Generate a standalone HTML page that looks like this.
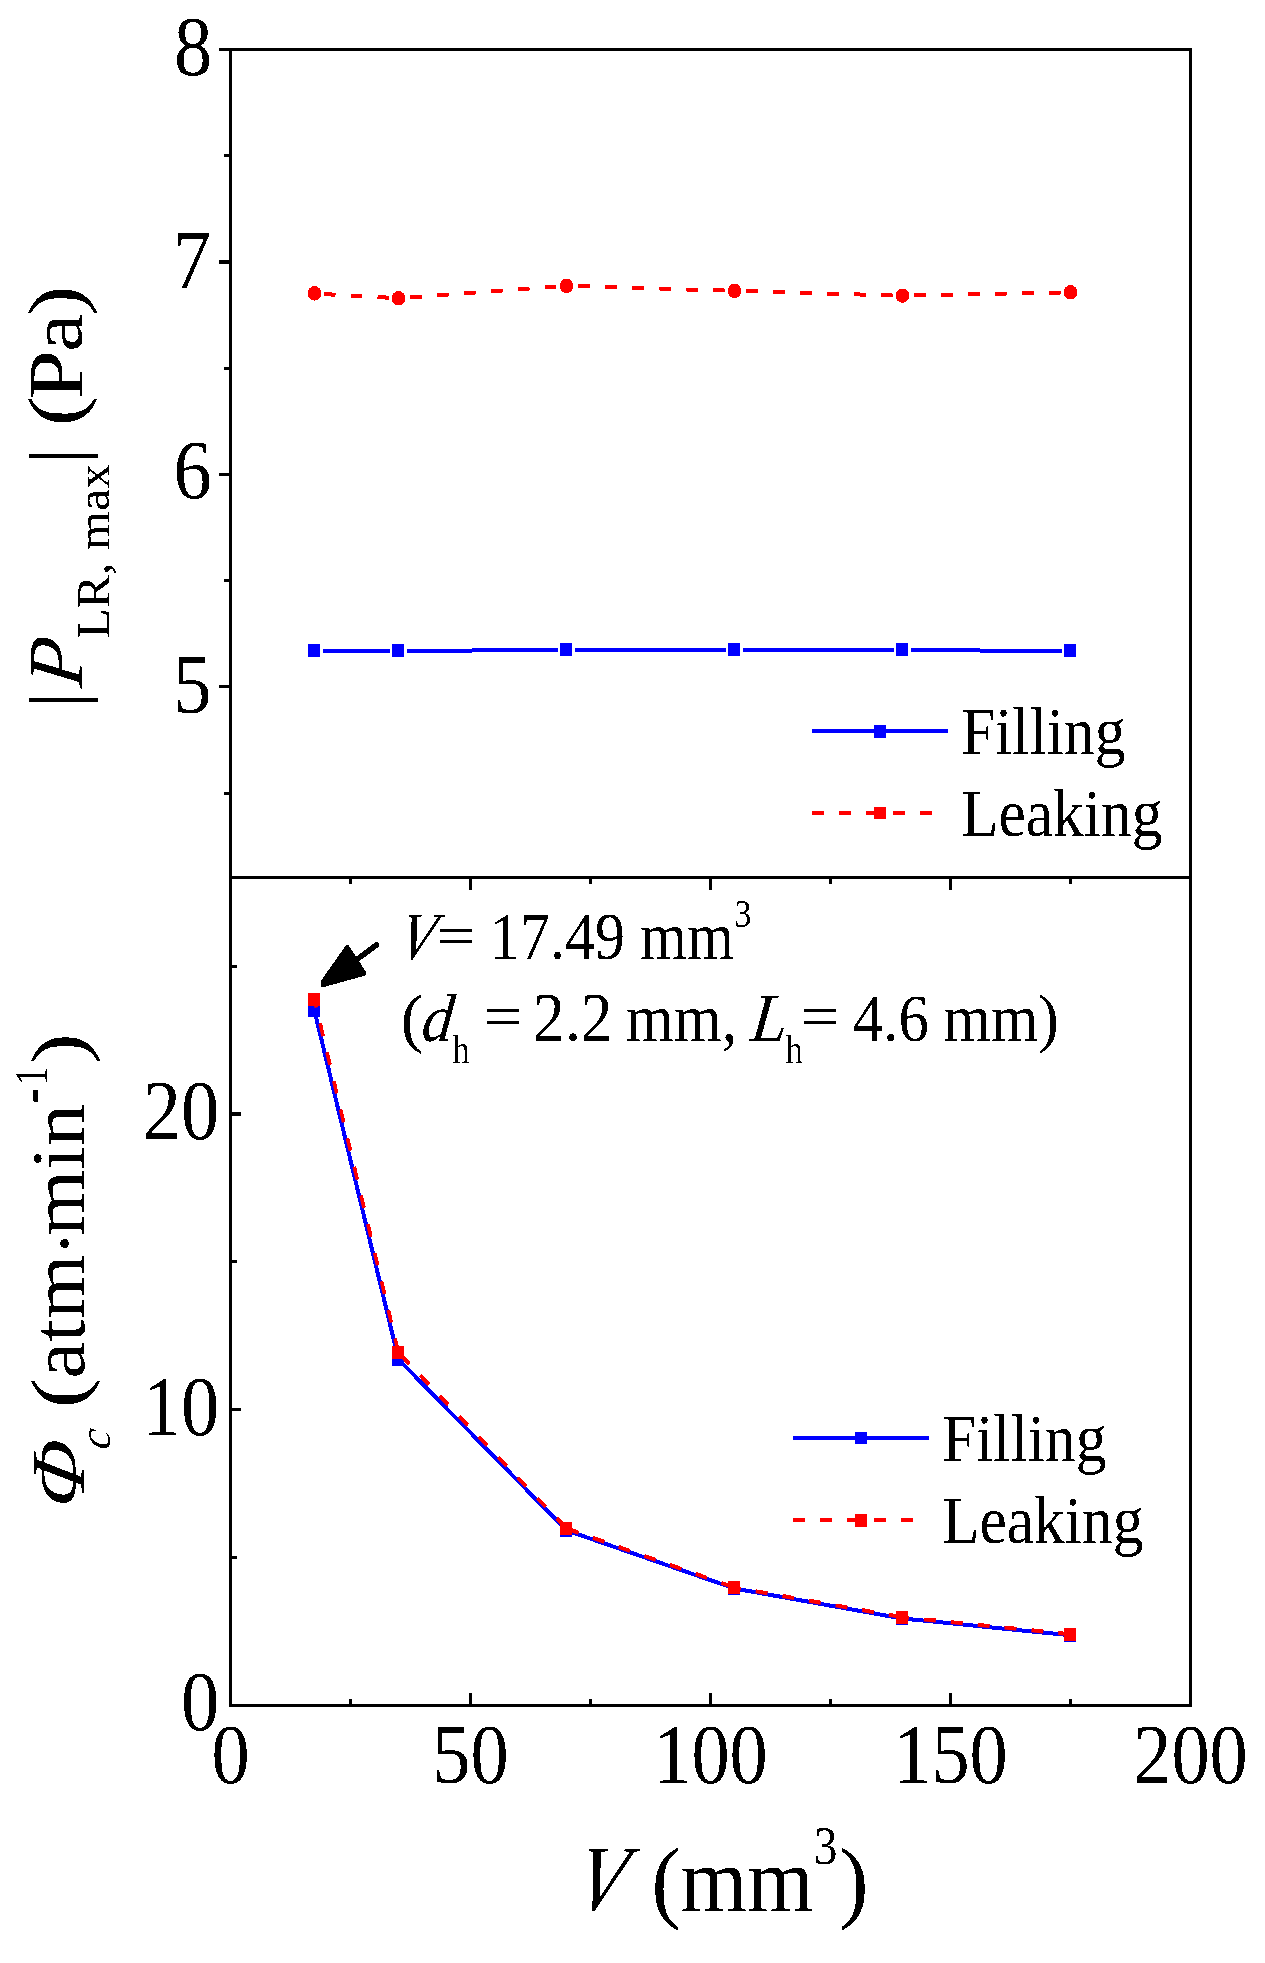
<!DOCTYPE html>
<html><head><meta charset="utf-8"><title>chart</title>
<style>
html,body{margin:0;padding:0;background:#fff;}
body{width:1265px;height:1963px;overflow:hidden;}
svg{display:block;}
svg text{font-family:"Liberation Serif",serif;fill:#000;font-kerning:none;white-space:pre;}
</style></head>
<body>
<svg width="1265" height="1963" viewBox="0 0 1265 1963">
<defs><filter id="th" x="0" y="0" width="1265" height="1963" filterUnits="userSpaceOnUse" color-interpolation-filters="sRGB"><feComponentTransfer><feFuncA type="discrete" tableValues="0 1"/></feComponentTransfer></filter></defs>
<rect x="0" y="0" width="1265" height="1963" fill="#fff"/>
<g filter="url(#th)">
<rect x="230.5" y="49.5" width="960.0" height="1656.0" fill="none" stroke="#000" stroke-width="3"/>
<line x1="230.50" y1="877.50" x2="1190.50" y2="877.50" stroke="#000" stroke-width="3"/>
<line x1="219.00" y1="49.50" x2="230.50" y2="49.50" stroke="#000" stroke-width="3"/>
<line x1="219.00" y1="262.00" x2="230.50" y2="262.00" stroke="#000" stroke-width="4"/>
<line x1="219.00" y1="474.50" x2="230.50" y2="474.50" stroke="#000" stroke-width="3"/>
<line x1="219.00" y1="686.50" x2="230.50" y2="686.50" stroke="#000" stroke-width="3"/>
<line x1="224.00" y1="155.75" x2="230.50" y2="155.75" stroke="#000" stroke-width="3"/>
<line x1="224.00" y1="368.25" x2="230.50" y2="368.25" stroke="#000" stroke-width="3"/>
<line x1="224.00" y1="580.75" x2="230.50" y2="580.75" stroke="#000" stroke-width="3"/>
<line x1="224.00" y1="793.25" x2="230.50" y2="793.25" stroke="#000" stroke-width="3"/>
<line x1="230.50" y1="1409.50" x2="241.00" y2="1409.50" stroke="#000" stroke-width="3"/>
<line x1="230.50" y1="1114.00" x2="241.00" y2="1114.00" stroke="#000" stroke-width="4"/>
<line x1="230.50" y1="1557.65" x2="237.00" y2="1557.65" stroke="#000" stroke-width="3"/>
<line x1="230.50" y1="1261.95" x2="237.00" y2="1261.95" stroke="#000" stroke-width="3"/>
<line x1="230.50" y1="966.25" x2="237.00" y2="966.25" stroke="#000" stroke-width="3"/>
<line x1="470.50" y1="1705.50" x2="470.50" y2="1693.00" stroke="#000" stroke-width="3"/>
<line x1="470.50" y1="877.50" x2="470.50" y2="890.00" stroke="#000" stroke-width="3"/>
<line x1="710.50" y1="1705.50" x2="710.50" y2="1693.00" stroke="#000" stroke-width="3"/>
<line x1="710.50" y1="877.50" x2="710.50" y2="890.00" stroke="#000" stroke-width="3"/>
<line x1="950.50" y1="1705.50" x2="950.50" y2="1693.00" stroke="#000" stroke-width="3"/>
<line x1="950.50" y1="877.50" x2="950.50" y2="890.00" stroke="#000" stroke-width="3"/>
<line x1="350.50" y1="1705.50" x2="350.50" y2="1699.00" stroke="#000" stroke-width="3"/>
<line x1="350.50" y1="877.50" x2="350.50" y2="884.00" stroke="#000" stroke-width="3"/>
<line x1="590.50" y1="1705.50" x2="590.50" y2="1699.00" stroke="#000" stroke-width="3"/>
<line x1="590.50" y1="877.50" x2="590.50" y2="884.00" stroke="#000" stroke-width="3"/>
<line x1="830.50" y1="1705.50" x2="830.50" y2="1699.00" stroke="#000" stroke-width="3"/>
<line x1="830.50" y1="877.50" x2="830.50" y2="884.00" stroke="#000" stroke-width="3"/>
<line x1="1070.50" y1="1705.50" x2="1070.50" y2="1699.00" stroke="#000" stroke-width="3"/>
<line x1="1070.50" y1="877.50" x2="1070.50" y2="884.00" stroke="#000" stroke-width="3"/>
<line x1="323.15" y1="651.00" x2="389.80" y2="651.00" stroke="#0000ff" stroke-width="4"/>
<line x1="407.20" y1="650.95" x2="557.80" y2="650.05" stroke="#0000ff" stroke-width="4"/>
<line x1="575.20" y1="650.00" x2="725.80" y2="650.00" stroke="#0000ff" stroke-width="4"/>
<line x1="743.20" y1="650.00" x2="893.80" y2="650.00" stroke="#0000ff" stroke-width="4"/>
<line x1="911.20" y1="650.05" x2="1061.80" y2="650.95" stroke="#0000ff" stroke-width="4"/>
<rect x="308" y="644" width="12" height="13" fill="#0000ff"/>
<rect x="392" y="644" width="12" height="13" fill="#0000ff"/>
<rect x="560" y="643" width="12" height="13" fill="#0000ff"/>
<rect x="728" y="643" width="12" height="13" fill="#0000ff"/>
<rect x="896" y="643" width="12" height="13" fill="#0000ff"/>
<rect x="1064" y="644" width="12" height="13" fill="#0000ff"/>
<g transform="scale(0.911,1)">
<line x1="345.17" y1="293.40" x2="431.44" y2="297.98" stroke="#ff0000" stroke-width="4.0" stroke-dasharray="13.06 16.54" stroke-dashoffset="-10.10"/>
<line x1="437.43" y1="298.30" x2="615.86" y2="286.30" stroke="#ff0000" stroke-width="4.0" stroke-dasharray="13.06 16.54" stroke-dashoffset="-12.70"/>
<line x1="621.84" y1="285.90" x2="800.26" y2="290.64" stroke="#ff0000" stroke-width="4.0" stroke-dasharray="13.06 16.54" stroke-dashoffset="-12.90"/>
<line x1="806.26" y1="290.80" x2="984.67" y2="295.54" stroke="#ff0000" stroke-width="4.0" stroke-dasharray="13.06 16.54" stroke-dashoffset="-12.70"/>
<line x1="990.67" y1="295.70" x2="1169.08" y2="292.41" stroke="#ff0000" stroke-width="4.0" stroke-dasharray="13.06 16.54" stroke-dashoffset="-12.50"/>
</g>
<ellipse cx="314.45" cy="293.40" rx="6.8" ry="7.3" fill="#ff0000"/>
<ellipse cx="398.50" cy="298.30" rx="6.8" ry="7.3" fill="#ff0000"/>
<ellipse cx="566.50" cy="285.90" rx="6.8" ry="7.3" fill="#ff0000"/>
<ellipse cx="734.50" cy="290.80" rx="6.8" ry="7.3" fill="#ff0000"/>
<ellipse cx="902.50" cy="295.70" rx="6.8" ry="7.3" fill="#ff0000"/>
<ellipse cx="1070.50" cy="292.30" rx="6.8" ry="7.3" fill="#ff0000"/>
<line x1="314.45" y1="1010.50" x2="398.50" y2="1359.40" stroke="#0000ff" stroke-width="4"/>
<line x1="398.50" y1="1359.40" x2="566.50" y2="1530.40" stroke="#0000ff" stroke-width="4"/>
<line x1="566.50" y1="1530.40" x2="734.50" y2="1588.50" stroke="#0000ff" stroke-width="4"/>
<line x1="734.50" y1="1588.50" x2="902.50" y2="1618.50" stroke="#0000ff" stroke-width="4"/>
<line x1="902.50" y1="1618.50" x2="1070.50" y2="1635.30" stroke="#0000ff" stroke-width="4"/>
<rect x="308" y="1004" width="12" height="13" fill="#0000ff"/>
<rect x="392" y="1353" width="12" height="13" fill="#0000ff"/>
<rect x="560" y="1524" width="12" height="13" fill="#0000ff"/>
<rect x="728" y="1582" width="12" height="13" fill="#0000ff"/>
<rect x="896" y="1612" width="12" height="13" fill="#0000ff"/>
<rect x="1064" y="1629" width="12" height="13" fill="#0000ff"/>
<g transform="scale(0.911,1)">
<line x1="345.17" y1="999.60" x2="437.43" y2="1352.70" stroke="#ff0000" stroke-width="4.0" stroke-dasharray="13.06 16.54" stroke-dashoffset="4.80"/>
<line x1="437.43" y1="1352.70" x2="621.84" y2="1528.50" stroke="#ff0000" stroke-width="4.0" stroke-dasharray="13.06 16.54" stroke-dashoffset="-3.20"/>
<line x1="621.84" y1="1528.50" x2="806.26" y2="1587.50" stroke="#ff0000" stroke-width="4.0" stroke-dasharray="13.06 16.54" stroke-dashoffset="-0.90"/>
<line x1="806.26" y1="1587.50" x2="990.67" y2="1617.20" stroke="#ff0000" stroke-width="4.0" stroke-dasharray="13.06 16.54" stroke-dashoffset="6.00"/>
<line x1="990.67" y1="1617.20" x2="1175.08" y2="1634.30" stroke="#ff0000" stroke-width="4.0" stroke-dasharray="13.06 16.54" stroke-dashoffset="5.90"/>
</g>
<rect x="308" y="993" width="12" height="13" fill="#ff0000"/>
<rect x="392" y="1346" width="12" height="13" fill="#ff0000"/>
<rect x="560" y="1522" width="12" height="13" fill="#ff0000"/>
<rect x="728" y="1581" width="12" height="13" fill="#ff0000"/>
<rect x="896" y="1611" width="12" height="13" fill="#ff0000"/>
<rect x="1064" y="1628" width="12" height="13" fill="#ff0000"/>
<line x1="812.00" y1="731.00" x2="948.00" y2="731.00" stroke="#0000ff" stroke-width="4"/>
<rect x="874" y="725" width="12" height="13" fill="#0000ff"/>
<line x1="812.00" y1="813.00" x2="946.00" y2="813.00" stroke="#ff0000" stroke-width="4" stroke-dasharray="12 15"/>
<rect x="874" y="807" width="12" height="12" fill="#ff0000"/>
<text transform="translate(960.92,754.00) scale(0.9209,1)" font-size="67">Filling</text>
<text transform="translate(960.93,836.00) scale(0.9179,1)" font-size="67">Leaking</text>
<line x1="793.00" y1="1438.00" x2="929.00" y2="1438.00" stroke="#0000ff" stroke-width="4"/>
<rect x="855" y="1432" width="12" height="12" fill="#0000ff"/>
<line x1="793.00" y1="1520.00" x2="927.00" y2="1520.00" stroke="#ff0000" stroke-width="4" stroke-dasharray="12 15"/>
<rect x="855" y="1514" width="12" height="13" fill="#ff0000"/>
<text transform="translate(941.92,1460.80) scale(0.9209,1)" font-size="67">Filling</text>
<text transform="translate(941.93,1542.80) scale(0.9179,1)" font-size="67">Leaking</text>
<text transform="translate(174.10,74.80) scale(0.9020,1)" font-size="84.7">8</text>
<text transform="translate(172.68,288.60) scale(0.9020,1)" font-size="84.7">7</text>
<text transform="translate(173.60,499.30) scale(0.9020,1)" font-size="84.7">6</text>
<text transform="translate(173.37,713.20) scale(0.9020,1)" font-size="84.7">5</text>
<text transform="translate(181.01,1729.70) scale(0.9020,1)" font-size="84.7">0</text>
<text transform="translate(142.81,1434.80) scale(0.9020,1)" font-size="84.7">10</text>
<text transform="translate(142.81,1139.10) scale(0.9020,1)" font-size="84.7">20</text>
<text transform="translate(211.40,1783.20) scale(0.9020,1)" font-size="84.7">0</text>
<text transform="translate(432.30,1783.20) scale(0.9020,1)" font-size="84.7">50</text>
<text transform="translate(653.20,1783.20) scale(0.9020,1)" font-size="84.7">100</text>
<text transform="translate(893.20,1783.20) scale(0.9020,1)" font-size="84.7">150</text>
<text transform="translate(1133.20,1783.20) scale(0.9020,1)" font-size="84.7">200</text>
<text transform="translate(396.47,959.18) skewX(-11.70) scale(0.8357,1)" font-size="67.62" font-style="italic">V</text>
<text transform="translate(436.32,955.41) scale(1.2042,1)" font-size="58.0">=</text>
<text transform="translate(489.92,959.00) scale(0.8743,1)" font-size="68.7">17.49</text>
<text transform="translate(639.93,959.00) scale(0.9020,1)" font-size="67">mm</text>
<text transform="translate(734.16,927.00) scale(0.8429,1)" font-size="40.78">3</text>
<text transform="translate(400.81,1039.87) scale(1.0263,1)" font-size="66.39">(</text>
<text transform="translate(420.30,1040.81) scale(0.9279,1) skewX(-6.56)" font-size="67.75" font-style="italic">d</text>
<text transform="translate(452.26,1062.50) scale(0.8769,1)" font-size="39.92">h</text>
<text transform="translate(483.33,1036.19) scale(1.1923,1)" font-size="58.4">=</text>
<text transform="translate(533.10,1040.60) scale(0.9258,1)" font-size="68.7">2.2</text>
<text transform="translate(625.80,1040.60) scale(0.9215,1)" font-size="67">mm,</text>
<text transform="translate(749.56,1040.60) scale(0.9353,1) skewX(-6.56)" font-size="69.03" font-style="italic">L</text>
<text transform="translate(785.46,1063.20) scale(0.8717,1)" font-size="39.92">h</text>
<text transform="translate(800.22,1036.19) scale(1.1959,1)" font-size="58.4">=</text>
<text transform="translate(852.81,1040.60) scale(0.8850,1)" font-size="68.7">4.6</text>
<text transform="translate(943.52,1040.60) scale(0.9089,1)" font-size="67">mm</text>
<text transform="translate(1037.62,1039.58) scale(0.9883,1)" font-size="65.4">)</text>
<line x1="376.5" y1="945" x2="352" y2="963" stroke="#000" stroke-width="5.5" stroke-linecap="round"/>
<polygon points="321,986.5 320.8,981 346.5,944.5 348.5,945 366,972 365.5,975.5 324,987" fill="#000"/>
<text transform="translate(572.41,1910.38) skewX(-11.70) scale(0.8296,1)" font-size="93.89" font-style="italic">V</text>
<text transform="translate(651.58,1910.51) scale(0.9485,1)" font-size="91.54">(</text>
<text transform="translate(680.60,1910.60) scale(0.9153,1)" font-size="93.5">mm</text>
<text transform="translate(813.73,1863.77) scale(0.8782,1)" font-size="54.03">3</text>
<text transform="translate(839.16,1910.51) scale(0.9613,1)" font-size="91.54">)</text>
<text transform="translate(81.48,315.71) scale(0.8437,1) rotate(-90)" font-size="90.33">)</text>
<text transform="translate(82.27,351.84) scale(0.8608,1) rotate(-90)" font-size="86.58">a</text>
<text transform="translate(82.10,399.67) scale(0.8694,1) rotate(-90)" font-size="89.06">P</text>
<text transform="translate(81.48,426.07) scale(0.8437,1) rotate(-90)" font-size="90.33">(</text>
<text transform="translate(82.10,464.00) scale(0.9083,1) rotate(-90)" font-size="84.0">|</text>
<text transform="translate(109.20,638.67) scale(0.9320,1) rotate(-90)" font-size="50">LR, max</text>
<text transform="translate(82.10,688.57) scale(0.9816,1) rotate(-90) skewX(-6.56)" font-size="79.35" font-style="italic">P</text>
<text transform="translate(82.10,708.10) scale(0.9083,1) rotate(-90)" font-size="84.0">|</text>
<text transform="translate(83.87,1064.07) scale(0.8210,1) rotate(-90)" font-size="92.28">)</text>
<text transform="translate(46.60,1084.95) scale(1.2428,1) rotate(-90)" font-size="36.93">1</text>
<text transform="translate(50.41,1103.24) scale(1.3909,1) rotate(-90)" font-size="44.27">-</text>
<text transform="translate(84.00,1235.88) scale(0.8988,1) rotate(-90)" font-size="84.89">min</text>
<text transform="translate(89.42,1255.89) scale(0.9775,1) rotate(-90)" font-size="75.32">·</text>
<text transform="translate(84.00,1378.81) scale(0.9204,1) rotate(-90)" font-size="82.9">atm</text>
<text transform="translate(83.80,1408.02) scale(0.8317,1) rotate(-90)" font-size="91.5">(</text>
<text transform="translate(109.57,1450.15) scale(0.9818,1) rotate(-90) skewX(-6.56)" font-size="45.32" font-style="italic">c</text>
<text transform="translate(84.00,1511.24) scale(0.8691,1) rotate(-90) skewX(-9.09)" font-size="88.04" font-style="italic">Φ</text>
</g>
</svg>
</body></html>
